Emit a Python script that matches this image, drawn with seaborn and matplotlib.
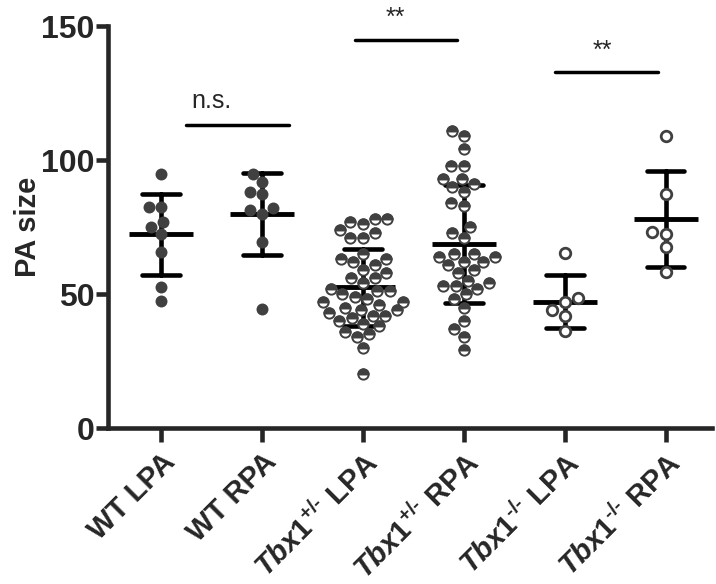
import numpy as np
import pandas as pd
import seaborn as sns
import matplotlib.pyplot as plt
import matplotlib.transforms as mtransforms
from matplotlib.path import Path

sns.set_style("ticks")
plt.rcParams['font.family'] = ['Liberation Sans', 'DejaVu Sans']
plt.rcParams['mathtext.fontset'] = 'custom'
plt.rcParams['mathtext.rm'] = 'Liberation Sans:bold'
plt.rcParams['mathtext.bf'] = 'Liberation Sans:bold'
plt.rcParams['mathtext.it'] = 'Liberation Sans:italic:bold'

# values
wt_lpa = [94.8, 82.6, 82.6, 77, 75.1, 72.3, 65.8, 52.7, 47.5]
wt_rpa = [94.8, 91.7, 88.2, 87.2, 82, 81.3, 80.1, 69.5, 44.4]
het_lpa = [78, 78, 77, 76, 74, 73, 71, 71, 65, 63, 63, 62, 61, 59, 58, 56, 56,
           54, 52, 51, 51, 50, 49, 48, 47, 47, 46, 45, 44, 44, 43, 42, 42, 41,
           40, 39, 38, 36, 35, 34, 30, 20]
het_rpa = [111, 109, 104, 98, 98, 93, 93, 91, 90, 88, 84, 83, 75, 73, 71, 65,
           65, 64, 64, 62, 62, 61, 59, 58, 55, 54, 53, 53, 52, 50, 48, 45, 40,
           37, 34, 29]
ko_lpa = [65.4, 48.4, 47.1, 44, 41.9, 36.2]
ko_rpa = [109, 87.3, 73.2, 72.6, 67.6, 58.3]

groups = ["WT LPA", "WT RPA", "Tbx1+/- LPA", "Tbx1+/- RPA", "Tbx1-/- LPA", "Tbx1-/- RPA"]
tick_labels = ["WT LPA", "WT RPA",
               r"$\mathit{Tbx1}^{\text{+/-}}$ LPA", r"$\mathit{Tbx1}^{\text{+/-}}$ RPA",
               r"$\mathit{Tbx1}^{\text{-/-}}$ LPA", r"$\mathit{Tbx1}^{\text{-/-}}$ RPA"]
values = [wt_lpa, wt_rpa, het_lpa, het_rpa, ko_lpa, ko_rpa]

df = pd.DataFrame({
    "group": np.repeat(groups, [len(v) for v in values]),
    "size": np.concatenate(values),
})
wt = df[df.group.str.startswith("WT")]
het = df[df.group.str.contains("+/-", regex=False)]
ko = df[df.group.str.contains("-/-", regex=False)]

dark = "#404040"
half_top = Path.wedge(0, 180)

fig = plt.figure(figsize=(7.16, 5.84), dpi=100)
ax = fig.add_axes([0.151, 0.267, 0.843, 0.688])

sns.swarmplot(data=wt, x="group", y="size", order=groups, color=dark,
              size=8.6, linewidth=0, ax=ax)
sns.swarmplot(data=het, x="group", y="size", order=groups, color="white",
              edgecolor=dark, linewidth=1.4, size=7.4, ax=ax)
sns.swarmplot(data=het, x="group", y="size", order=groups, color=dark,
              edgecolor=dark, linewidth=1.4, size=7.4, marker=half_top, ax=ax)
sns.swarmplot(data=ko, x="group", y="size", order=groups, color="white",
              edgecolor=dark, linewidth=2.0, size=7.6, ax=ax)

# mean +/- SD
sns.pointplot(data=df, x="group", y="size", order=groups, errorbar="sd",
              color="black", linestyle="none", marker="_", markersize=46,
              markeredgewidth=3.5, capsize=0.37, err_kws={"linewidth": 3.3}, ax=ax)

# significance bars
sig = [((0.25, 1.27), 113, (0.5, 122), "n.s."),
       ((1.92, 2.93), 145, (2.32, 153), "**"),
       ((3.9, 4.92), 133, (4.37, 141), "**")]
for (x0, x1), y, (tx, ty), txt in sig:
    ax.plot([x0, x1], [y, y], color="black", lw=2.5, clip_on=False)
    ax.text(tx, ty, txt, ha="center", va="center", fontsize=18, clip_on=False)

ax.set_xlim(-0.525, 5.455)
ax.set_ylim(0, 150)
ax.set_yticks([0, 50, 100, 150])
ax.set_xticks(range(len(groups)))
ax.set_xticklabels(tick_labels, rotation=45, ha="right", rotation_mode="anchor",
                   fontsize=21, fontweight="bold")
shift = mtransforms.ScaledTranslation(-6 / 72, -2 / 72, fig.dpi_scale_trans)
for lab in ax.get_xticklabels():
    lab.set_transform(lab.get_transform() + shift)
ax.set_xlabel("")
ax.set_ylabel("PA size", fontsize=21, fontweight="bold")
ax.yaxis.set_label_coords(-0.11, 0.5)
for lab in ax.get_yticklabels():
    lab.set_fontsize(23)
    lab.set_fontweight("bold")

sns.despine(ax=ax)
for s in ["left", "bottom"]:
    ax.spines[s].set_linewidth(3.3)
ax.tick_params(axis="y", length=9, width=3.3, pad=1)
ax.tick_params(axis="x", length=10, width=3.3, pad=4)

fig.savefig("out.png", dpi=100)
